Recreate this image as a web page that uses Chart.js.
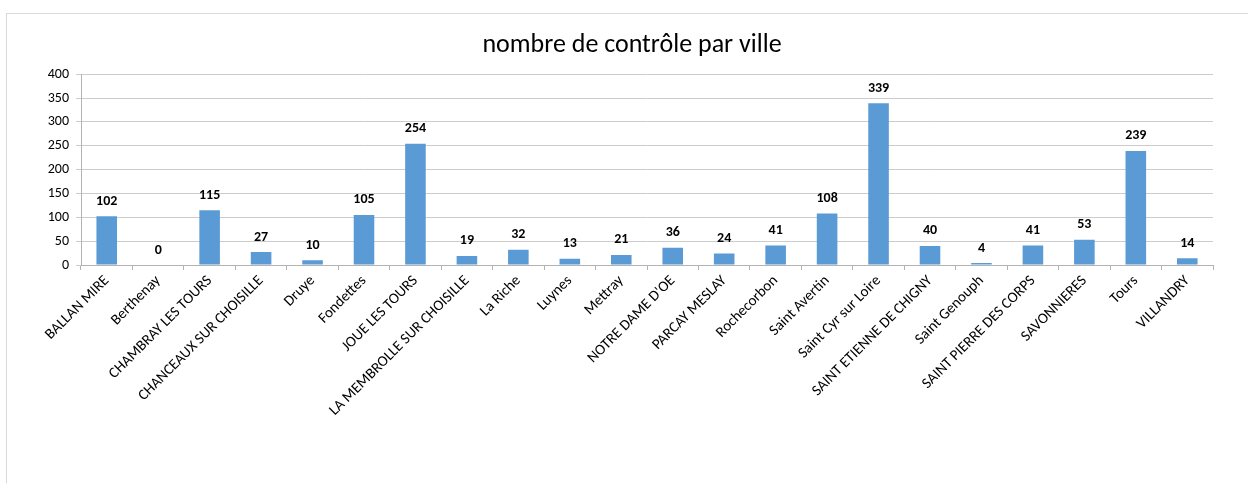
<!DOCTYPE html>
<html>
<head>
<meta charset="utf-8">
<script src="https://cdn.jsdelivr.net/npm/chart.js@4/dist/chart.umd.min.js"></script>
<style>
  html, body { margin: 0; padding: 0; background: #fff; overflow: hidden; }
  #frame { position: absolute; left: 6px; top: 13px; width: 1250px; height: 480px; border: 1px solid #d9d9d9; }
  #wrap { position: relative; width: 1250px; height: 480px; }
</style>
</head>
<body>
<div id="frame"><div id="wrap"><canvas id="villeChart"></canvas></div></div>
<script>
const villes = [
    'BALLAN MIRE', 'Berthenay', 'CHAMBRAY LES TOURS', 'CHANCEAUX SUR CHOISILLE', 'Druye',
    'Fondettes', 'JOUE LES TOURS', 'LA MEMBROLLE SUR CHOISILLE', 'La Riche', 'Luynes',
    'Mettray', "NOTRE DAME D'OE", 'PARCAY MESLAY', 'Rochecorbon', 'Saint Avertin',
    'Saint Cyr sur Loire', 'SAINT ETIENNE DE CHIGNY', 'Saint Genouph', 'SAINT PIERRE DES CORPS',
    'SAVONNIERES', 'Tours', 'VILLANDRY'
];
const controles = [102, 0, 115, 27, 10, 105, 254, 19, 32, 13, 21, 36, 24, 41, 108, 339, 40, 4, 41, 53, 239, 14];
const yTicks = [0, 50, 100, 150, 200, 250, 300, 350, 400];

const FONT = "Carlito, Calibri, Lato, 'Liberation Sans', sans-serif";

// value labels above each bar
const barValues = {
    id: 'barValues',
    afterDatasetsDraw(chart) {
        const ctx = chart.ctx;
        const meta = chart.getDatasetMeta(0);
        ctx.save();
        ctx.font = 'bold 14px ' + FONT;
        ctx.fillStyle = '#000';
        ctx.textAlign = 'center';
        ctx.textBaseline = 'bottom';
        meta.data.forEach((bar, i) => {
            ctx.fillText(String(controles[i]), bar.x, bar.y - 8);
        });
        ctx.restore();
    }
};

// centre the title over the whole canvas rather than the padded box
const titleFullWidth = {
    id: 'titleFullWidth',
    afterLayout(chart) {
        if (chart.titleBlock) {
            chart.titleBlock.left = 0;
            chart.titleBlock.right = chart.width;
        }
    }
};

new Chart(document.getElementById('villeChart'), {
    type: 'bar',
    data: {
        labels: villes,
        datasets: [{
            data: controles,
            backgroundColor: '#5B9BD5',
            borderWidth: 0,
            barPercentage: 0.4,
            categoryPercentage: 1
        }]
    },
    options: {
        responsive: true,
        maintainAspectRatio: false,
        animation: false,
        layout: { padding: { top: 4, right: 44, left: 0, bottom: 0 } },
        plugins: {
            legend: { display: false },
            tooltip: { enabled: false },
            title: {
                display: true,
                text: 'nombre de contrôle par ville',
                color: '#000',
                font: { family: FONT, size: 26, weight: 'normal' },
                padding: { top: 12, bottom: 13 }
            }
        },
        scales: {
            x: {
                grid: { offset: true, drawOnChartArea: false, drawTicks: true, tickLength: 5, color: '#b3b3b3' },
                border: { color: '#b3b3b3' },
                ticks: {
                    autoSkip: false,
                    maxRotation: 45,
                    minRotation: 45,
                    color: '#000',
                    font: { family: FONT, size: 15 },
                    padding: 2
                },
                afterFit(scale) { scale.height = 229; }
            },
            y: {
                min: 0,
                max: 400,
                afterBuildTicks(scale) { scale.ticks = yTicks.map(v => ({ value: v })); },
                grid: { color: '#cccccc', drawTicks: true, tickLength: 5 },
                border: { color: '#b3b3b3' },
                ticks: { color: '#000', font: { family: FONT, size: 14 }, padding: 7 },
                afterFit(scale) { scale.width = 74; }
            }
        }
    },
    plugins: [barValues, titleFullWidth]
});
</script>
</body>
</html>
